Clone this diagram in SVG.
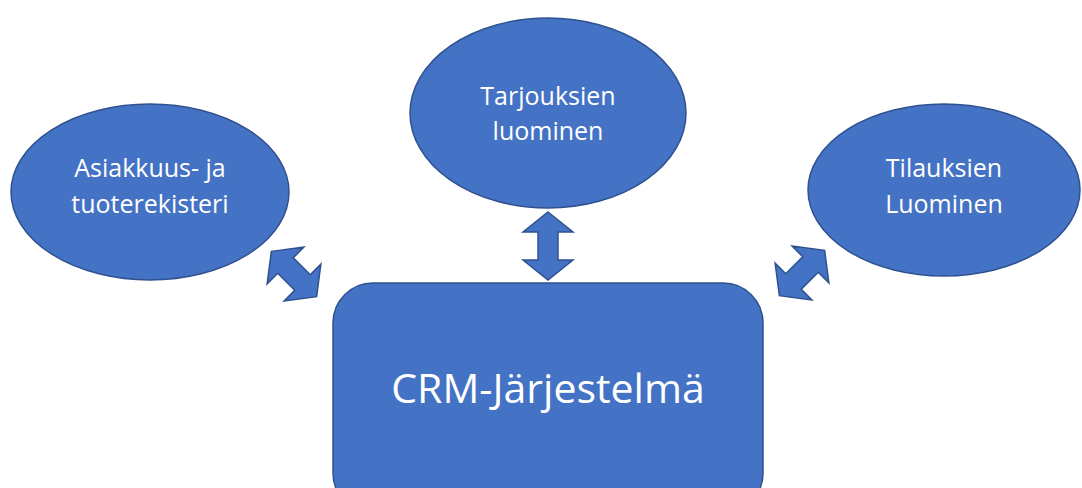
<svg xmlns="http://www.w3.org/2000/svg" width="1082" height="488" viewBox="0 0 1082 488">
<style>
.shape{fill:#4472C4;stroke:#2F528F;stroke-width:1.5}
.lbl{fill:#FFFFFF;font-family:"Open Sans","Liberation Sans",sans-serif;font-size:25px;text-anchor:middle}
.big{font-size:41px}
</style>
<defs>
<path id="dbl" class="shape" d="M0,-34 L25,-14 L10,-14 L10,14 L25,14 L0,34 L-25,14 L-10,14 L-10,-14 L-25,-14 Z"/>
<path id="dbl2" class="shape" d="M0,-32 L26,-12 L11,-12 L11,12 L26,12 L0,32 L-26,12 L-11,12 L-11,-12 L-26,-12 Z"/>
</defs>
<rect width="1082" height="488" fill="#FFFFFF"/>
<g id="connectors">
<use href="#dbl" transform="translate(548,246)"/>
<use href="#dbl2" transform="translate(294,274) rotate(-45)"/>
<use href="#dbl2" transform="translate(802,273) rotate(45)"/>
</g>
<g id="node-asiakkuus">
<ellipse class="shape" cx="150" cy="192" rx="139" ry="88"/>
<text class="lbl" x="150" y="177">Asiakkuus- ja</text>
<text class="lbl" x="150" y="213">tuoterekisteri</text>
</g>
<g id="node-tarjoukset">
<ellipse class="shape" cx="548" cy="113" rx="138" ry="95"/>
<text class="lbl" x="548" y="105">Tarjouksien</text>
<text class="lbl" x="548" y="140">luominen</text>
</g>
<g id="node-tilaukset">
<ellipse class="shape" cx="944" cy="190" rx="136" ry="86"/>
<text class="lbl" x="944" y="177">Tilauksien</text>
<text class="lbl" x="944" y="213">Luominen</text>
</g>
<g id="node-crm">
<rect class="shape" x="333" y="283" width="430" height="230" rx="40" ry="40"/>
<text class="lbl big" x="548" y="403">CRM-Järjestelmä</text>
</g>
</svg>
